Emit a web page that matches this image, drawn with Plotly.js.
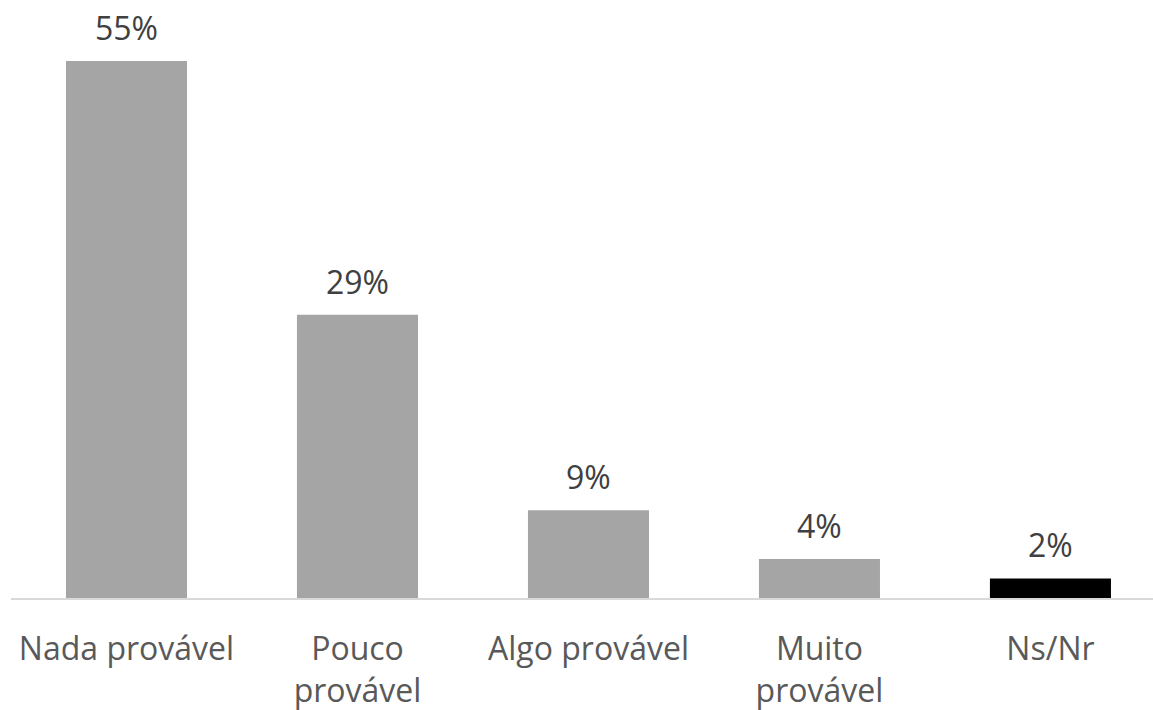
<!DOCTYPE html>
<html>
<head>
<meta charset="utf-8">
<script src="https://cdn.plot.ly/plotly-3.0.1.min.js"></script>
<style>html,body{margin:0;padding:0;background:#fff;}#chart{width:1153px;height:710px;}</style>
</head>
<body>
<div id="chart"></div>
<script>
const categories = ["Nada provável", "Pouco<br>provável", "Algo provável", "Muito<br>provável", "Ns/Nr"];
const values = [55, 29, 9, 4, 2];
const labels = ["55%", "29%", "9%", "4%", "2%"];
const barColors = ["#a5a5a5", "#a5a5a5", "#a5a5a5", "#a5a5a5", "#000000"];

const trace = {
  type: "bar",
  x: categories,
  y: values,
  marker: { color: barColors },
  hoverinfo: "skip"
};

const annotations = categories.map((c, i) => ({
  x: c, y: values[i], xref: "x", yref: "y",
  text: labels[i], showarrow: false,
  yanchor: "bottom", yshift: 10,
  font: { family: "Open Sans, sans-serif", size: 32, color: "#404040" }
}));

const layout = {
  width: 1153, height: 710,
  margin: { l: 11, r: 0, t: 0, b: 112 },
  paper_bgcolor: "#ffffff", plot_bgcolor: "#ffffff",
  bargap: 0.476,
  showlegend: false,
  xaxis: {
    type: "category",
    range: [-0.5, 4.444],
    showline: true, linecolor: "#d9d9d9", linewidth: 2,
    ticks: "", showgrid: false, zeroline: false,
    ticklabelstandoff: 22,
    tickfont: { family: "Open Sans, sans-serif", size: 32, color: "#595959" }
  },
  yaxis: {
    range: [0, 61.25],
    visible: false, showgrid: false, zeroline: false
  },
  annotations: annotations
};

Plotly.newPlot("chart", [trace], layout, { staticPlot: true });
</script>
</body>
</html>
